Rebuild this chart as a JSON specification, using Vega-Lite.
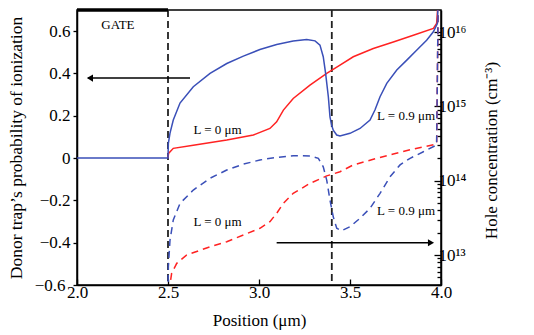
{
  "$schema": "https://vega.github.io/schema/vega-lite/v6.json",
  "width": 364,
  "height": 275,
  "autosize": "none",
  "padding": {"left": 77, "top": 10, "right": 93, "bottom": 50},
  "config": {
    "font": "Liberation Serif",
    "view": {"stroke": "black", "strokeWidth": 1.5},
    "axis": {
      "domainColor": "black", "domainWidth": 1.5, "tickColor": "black", "tickWidth": 1.3,
      "labelColor": "black", "titleColor": "black", "labelFont": "Liberation Serif", "titleFont": "Liberation Serif",
      "labelFontSize": 17, "titleFontSize": 17, "titleFontWeight": "normal", "grid": false
    }
  },
  "datasets": {
    "ion": [
      {"x": 2.5, "v": 0, "series": "L = 0 μm"}, {"x": 2.503, "v": 0.022, "series": "L = 0 μm"}, {"x": 2.529, "v": 0.046, "series": "L = 0 μm"},
      {"x": 2.639, "v": 0.061, "series": "L = 0 μm"}, {"x": 2.823, "v": 0.085, "series": "L = 0 μm"}, {"x": 2.969, "v": 0.109, "series": "L = 0 μm"},
      {"x": 3.06, "v": 0.14, "series": "L = 0 μm"}, {"x": 3.097, "v": 0.171, "series": "L = 0 μm"}, {"x": 3.134, "v": 0.227, "series": "L = 0 μm"},
      {"x": 3.188, "v": 0.282, "series": "L = 0 μm"}, {"x": 3.28, "v": 0.345, "series": "L = 0 μm"}, {"x": 3.372, "v": 0.4, "series": "L = 0 μm"},
      {"x": 3.445, "v": 0.439, "series": "L = 0 μm"}, {"x": 3.518, "v": 0.479, "series": "L = 0 μm"}, {"x": 3.628, "v": 0.518, "series": "L = 0 μm"},
      {"x": 3.738, "v": 0.549, "series": "L = 0 μm"}, {"x": 3.848, "v": 0.581, "series": "L = 0 μm"}, {"x": 3.958, "v": 0.613, "series": "L = 0 μm"},
      {"x": 3.976, "v": 0.636, "series": "L = 0 μm"}, {"x": 3.985, "v": 0.75, "series": "L = 0 μm"},
      {"x": 2.0, "v": 0, "series": "L = 0.9 μm"}, {"x": 2.5, "v": 0, "series": "L = 0.9 μm"}, {"x": 2.502, "v": 0.07, "series": "L = 0.9 μm"},
      {"x": 2.511, "v": 0.118, "series": "L = 0.9 μm"}, {"x": 2.529, "v": 0.18, "series": "L = 0.9 μm"}, {"x": 2.566, "v": 0.26, "series": "L = 0.9 μm"},
      {"x": 2.639, "v": 0.337, "series": "L = 0.9 μm"}, {"x": 2.731, "v": 0.4, "series": "L = 0.9 μm"}, {"x": 2.823, "v": 0.447, "series": "L = 0.9 μm"},
      {"x": 2.914, "v": 0.482, "series": "L = 0.9 μm"}, {"x": 3.005, "v": 0.513, "series": "L = 0.9 μm"}, {"x": 3.097, "v": 0.537, "series": "L = 0.9 μm"},
      {"x": 3.188, "v": 0.553, "series": "L = 0.9 μm"}, {"x": 3.262, "v": 0.561, "series": "L = 0.9 μm"}, {"x": 3.308, "v": 0.554, "series": "L = 0.9 μm"},
      {"x": 3.335, "v": 0.534, "series": "L = 0.9 μm"}, {"x": 3.353, "v": 0.479, "series": "L = 0.9 μm"}, {"x": 3.366, "v": 0.4, "series": "L = 0.9 μm"},
      {"x": 3.381, "v": 0.29, "series": "L = 0.9 μm"}, {"x": 3.39, "v": 0.195, "series": "L = 0.9 μm"}, {"x": 3.399, "v": 0.156, "series": "L = 0.9 μm"},
      {"x": 3.408, "v": 0.132, "series": "L = 0.9 μm"}, {"x": 3.427, "v": 0.109, "series": "L = 0.9 μm"}, {"x": 3.445, "v": 0.104, "series": "L = 0.9 μm"},
      {"x": 3.5, "v": 0.117, "series": "L = 0.9 μm"}, {"x": 3.555, "v": 0.14, "series": "L = 0.9 μm"}, {"x": 3.61, "v": 0.18, "series": "L = 0.9 μm"},
      {"x": 3.637, "v": 0.227, "series": "L = 0.9 μm"}, {"x": 3.665, "v": 0.29, "series": "L = 0.9 μm"}, {"x": 3.702, "v": 0.353, "series": "L = 0.9 μm"},
      {"x": 3.757, "v": 0.416, "series": "L = 0.9 μm"}, {"x": 3.812, "v": 0.463, "series": "L = 0.9 μm"}, {"x": 3.866, "v": 0.51, "series": "L = 0.9 μm"},
      {"x": 3.921, "v": 0.557, "series": "L = 0.9 μm"}, {"x": 3.958, "v": 0.597, "series": "L = 0.9 μm"}, {"x": 3.98, "v": 0.636, "series": "L = 0.9 μm"},
      {"x": 3.985, "v": 0.75, "series": "L = 0.9 μm"}
    ],
    "holes": [
      {"x": 2.505, "p": 3.2e12, "series": "L = 0 μm"}, {"x": 2.52, "p": 5.68e12, "series": "L = 0 μm"}, {"x": 2.548, "p": 7.73e12, "series": "L = 0 μm"},
      {"x": 2.603, "p": 1.0e13, "series": "L = 0 μm"}, {"x": 2.731, "p": 1.29e13, "series": "L = 0 μm"}, {"x": 2.823, "p": 1.51e13, "series": "L = 0 μm"},
      {"x": 2.914, "p": 1.86e13, "series": "L = 0 μm"}, {"x": 3.005, "p": 2.29e13, "series": "L = 0 μm"}, {"x": 3.06, "p": 2.81e13, "series": "L = 0 μm"},
      {"x": 3.097, "p": 3.64e13, "series": "L = 0 μm"}, {"x": 3.134, "p": 4.95e13, "series": "L = 0 μm"}, {"x": 3.188, "p": 6.76e13, "series": "L = 0 μm"},
      {"x": 3.28, "p": 9.2e13, "series": "L = 0 μm"}, {"x": 3.372, "p": 1.16e14, "series": "L = 0 μm"}, {"x": 3.445, "p": 1.32e14, "series": "L = 0 μm"},
      {"x": 3.518, "p": 1.63e14, "series": "L = 0 μm"}, {"x": 3.628, "p": 1.94e14, "series": "L = 0 μm"}, {"x": 3.738, "p": 2.29e14, "series": "L = 0 μm"},
      {"x": 3.848, "p": 2.67e14, "series": "L = 0 μm"}, {"x": 3.976, "p": 3.11e14, "series": "L = 0 μm"}, {"x": 3.985, "p": 3.2e16, "series": "L = 0 μm"},
      {"x": 2.5, "p": 3.0e12, "series": "L = 0.9 μm"}, {"x": 2.502, "p": 6.97e12, "series": "L = 0.9 μm"}, {"x": 2.511, "p": 1.59e13, "series": "L = 0.9 μm"},
      {"x": 2.529, "p": 2.96e13, "series": "L = 0.9 μm"}, {"x": 2.566, "p": 4.95e13, "series": "L = 0.9 μm"}, {"x": 2.639, "p": 7.48e13, "series": "L = 0.9 μm"},
      {"x": 2.731, "p": 1.08e14, "series": "L = 0.9 μm"}, {"x": 2.823, "p": 1.39e14, "series": "L = 0.9 μm"}, {"x": 2.914, "p": 1.67e14, "series": "L = 0.9 μm"},
      {"x": 3.005, "p": 1.9e14, "series": "L = 0.9 μm"}, {"x": 3.097, "p": 2.06e14, "series": "L = 0.9 μm"}, {"x": 3.188, "p": 2.17e14, "series": "L = 0.9 μm"},
      {"x": 3.28, "p": 2.15e14, "series": "L = 0.9 μm"}, {"x": 3.326, "p": 2.0e14, "series": "L = 0.9 μm"}, {"x": 3.353, "p": 1.54e14, "series": "L = 0.9 μm"},
      {"x": 3.372, "p": 1.02e14, "series": "L = 0.9 μm"}, {"x": 3.39, "p": 5.5e13, "series": "L = 0.9 μm"}, {"x": 3.408, "p": 3.27e13, "series": "L = 0.9 μm"},
      {"x": 3.427, "p": 2.29e13, "series": "L = 0.9 μm"}, {"x": 3.454, "p": 2.12e13, "series": "L = 0.9 μm"}, {"x": 3.5, "p": 2.4e13, "series": "L = 0.9 μm"},
      {"x": 3.555, "p": 3.12e13, "series": "L = 0.9 μm"}, {"x": 3.61, "p": 4.25e13, "series": "L = 0.9 μm"}, {"x": 3.665, "p": 6.76e13, "series": "L = 0.9 μm"},
      {"x": 3.72, "p": 1.13e14, "series": "L = 0.9 μm"}, {"x": 3.775, "p": 1.63e14, "series": "L = 0.9 μm"}, {"x": 3.83, "p": 2.0e14, "series": "L = 0.9 μm"},
      {"x": 3.903, "p": 2.45e14, "series": "L = 0.9 μm"}, {"x": 3.976, "p": 3.02e14, "series": "L = 0.9 μm"}, {"x": 3.985, "p": 3.2e16, "series": "L = 0.9 μm"}
    ],
    "labels": [
      {"x": 2.772, "v": 0.132, "label": "L = 0 μm"},
      {"x": 2.772, "v": -0.302, "label": "L = 0 μm"},
      {"x": 3.808, "v": 0.198, "label": "L = 0.9 μm"},
      {"x": 3.808, "v": -0.25, "label": "L = 0.9 μm"},
      {"x": 2.225, "v": 0.628, "label": "GATE"}
    ],
    "arrows": [
      {"x": 2.621, "xend": 2.06, "v": 0.378},
      {"x": 3.097, "xend": 3.95, "v": -0.4}
    ],
    "heads": [
      {"x": 2.071, "v": 0.378, "dir": "left"},
      {"x": 3.945, "v": -0.4, "dir": "right"}
    ],
    "markers": [{"x": 2.5}, {"x": 3.4}],
    "gate": [{"x": 2.0, "xend": 2.5}]
  },
  "layer": [
    {
      "layer": [
        {
          "data": {"name": "markers"},
          "mark": {"type": "rule", "color": "#222222", "strokeWidth": 1.8, "strokeDash": [7, 4]},
          "encoding": {
            "x": {"field": "x", "type": "quantitative", "scale": {"domain": [2, 4], "nice": false, "zero": false},
              "axis": {"title": "Position (μm)", "values": [2, 2.5, 3, 3.5, 4], "format": ".1f", "tickSize": -6, "labelPadding": 5, "titlePadding": 12, "labelFlush": false}}
          }
        },
        {
          "data": {"name": "gate"},
          "mark": {"type": "rule", "color": "black", "strokeWidth": 3.5},
          "encoding": {
            "x": {"field": "x", "type": "quantitative", "scale": {"domain": [2, 4], "nice": false, "zero": false},
              "axis": {"title": "Position (μm)", "values": [2, 2.5, 3, 3.5, 4], "format": ".1f", "tickSize": -6, "labelPadding": 5, "titlePadding": 12, "labelFlush": false}},
            "x2": {"field": "xend"},
            "y": {"datum": 0.7, "type": "quantitative", "scale": {"domain": [-0.6, 0.7], "nice": false, "zero": false},
              "axis": {"title": "Donor trap’s probability of ionization", "values": [-0.6, -0.4, -0.2, 0, 0.2, 0.4, 0.6], "titleFontSize": 17.5,
                "labelExpr": "datum.value == 0 ? '0' : format(datum.value, '.1f')", "tickSize": 4,
                "labelPadding": {"condition": {"test": "datum.value == -0.6", "value": 8}, "value": 3}, "titlePadding": 9}}
          }
        },
        {
          "data": {"name": "ion"},
          "mark": {"type": "line", "strokeWidth": 1.5, "clip": true},
          "encoding": {
            "x": {"field": "x", "type": "quantitative", "scale": {"domain": [2, 4], "nice": false, "zero": false},
              "axis": {"title": "Position (μm)", "values": [2, 2.5, 3, 3.5, 4], "format": ".1f", "tickSize": -6, "labelPadding": 5, "titlePadding": 12, "labelFlush": false}},
            "y": {"field": "v", "type": "quantitative", "scale": {"domain": [-0.6, 0.7], "nice": false, "zero": false},
              "axis": {"title": "Donor trap’s probability of ionization", "values": [-0.6, -0.4, -0.2, 0, 0.2, 0.4, 0.6], "titleFontSize": 17.5,
                "labelExpr": "datum.value == 0 ? '0' : format(datum.value, '.1f')", "tickSize": 4,
                "labelPadding": {"condition": {"test": "datum.value == -0.6", "value": 8}, "value": 3}, "titlePadding": 9}},
            "color": {"field": "series", "type": "nominal", "scale": {"domain": ["L = 0 μm", "L = 0.9 μm"], "range": ["#ff2222", "#3a4fb8"]}, "legend": null}
          }
        },
        {
          "data": {"name": "arrows"},
          "mark": {"type": "rule", "color": "black", "strokeWidth": 1.5},
          "encoding": {
            "x": {"field": "x", "type": "quantitative", "scale": {"domain": [2, 4], "nice": false, "zero": false},
              "axis": {"title": "Position (μm)", "values": [2, 2.5, 3, 3.5, 4], "format": ".1f", "tickSize": -6, "labelPadding": 5, "titlePadding": 12, "labelFlush": false}},
            "x2": {"field": "xend"},
            "y": {"field": "v", "type": "quantitative", "scale": {"domain": [-0.6, 0.7], "nice": false, "zero": false},
              "axis": {"title": "Donor trap’s probability of ionization", "values": [-0.6, -0.4, -0.2, 0, 0.2, 0.4, 0.6], "titleFontSize": 17.5,
                "labelExpr": "datum.value == 0 ? '0' : format(datum.value, '.1f')", "tickSize": 4,
                "labelPadding": {"condition": {"test": "datum.value == -0.6", "value": 8}, "value": 3}, "titlePadding": 9}}
          }
        },
        {
          "data": {"name": "heads"},
          "mark": {"type": "point", "filled": true, "color": "black", "opacity": 1, "size": 50},
          "encoding": {
            "x": {"field": "x", "type": "quantitative", "scale": {"domain": [2, 4], "nice": false, "zero": false},
              "axis": {"title": "Position (μm)", "values": [2, 2.5, 3, 3.5, 4], "format": ".1f", "tickSize": -6, "labelPadding": 5, "titlePadding": 12, "labelFlush": false}},
            "y": {"field": "v", "type": "quantitative", "scale": {"domain": [-0.6, 0.7], "nice": false, "zero": false},
              "axis": {"title": "Donor trap’s probability of ionization", "values": [-0.6, -0.4, -0.2, 0, 0.2, 0.4, 0.6], "titleFontSize": 17.5,
                "labelExpr": "datum.value == 0 ? '0' : format(datum.value, '.1f')", "tickSize": 4,
                "labelPadding": {"condition": {"test": "datum.value == -0.6", "value": 8}, "value": 3}, "titlePadding": 9}},
            "shape": {"field": "dir", "type": "nominal", "scale": {"domain": ["left", "right"], "range": ["triangle-left", "triangle-right"]}, "legend": null}
          }
        },
        {
          "data": {"name": "labels"},
          "mark": {"type": "text", "font": "Liberation Serif", "fontSize": 13, "color": "black", "align": "center", "baseline": "middle"},
          "encoding": {
            "x": {"field": "x", "type": "quantitative", "scale": {"domain": [2, 4], "nice": false, "zero": false},
              "axis": {"title": "Position (μm)", "values": [2, 2.5, 3, 3.5, 4], "format": ".1f", "tickSize": -6, "labelPadding": 5, "titlePadding": 12, "labelFlush": false}},
            "y": {"field": "v", "type": "quantitative", "scale": {"domain": [-0.6, 0.7], "nice": false, "zero": false},
              "axis": {"title": "Donor trap’s probability of ionization", "values": [-0.6, -0.4, -0.2, 0, 0.2, 0.4, 0.6], "titleFontSize": 17.5,
                "labelExpr": "datum.value == 0 ? '0' : format(datum.value, '.1f')", "tickSize": 4,
                "labelPadding": {"condition": {"test": "datum.value == -0.6", "value": 8}, "value": 3}, "titlePadding": 9}},
            "text": {"field": "label"}
          }
        }
      ]
    },
    {
      "data": {"name": "holes"},
      "mark": {"type": "line", "strokeWidth": 1.5, "strokeDash": [7, 5], "clip": true},
      "encoding": {
        "x": {"field": "x", "type": "quantitative", "scale": {"domain": [2, 4], "nice": false, "zero": false},
          "axis": {"title": "Position (μm)", "values": [2, 2.5, 3, 3.5, 4], "format": ".1f", "tickSize": -6, "labelPadding": 5, "titlePadding": 12, "labelFlush": false}},
        "y": {"field": "p", "type": "quantitative", "scale": {"type": "log", "domain": [3.95e12, 1.98e16], "nice": false},
          "axis": {"orient": "right", "title": "Hole concentration (cm⁻³)", "titleAngle": -90, "titlePadding": 34, "titleY": 140,
            "values": [4e12, 5e12, 6e12, 7e12, 8e12, 9e12, 1e13, 2e13, 3e13, 4e13, 5e13, 6e13, 7e13, 8e13, 9e13, 1e14, 2e14, 3e14, 4e14, 5e14, 6e14, 7e14, 8e14, 9e14, 1e15, 2e15, 3e15, 4e15, 5e15, 6e15, 7e15, 8e15, 9e15, 1e16],
            "labelExpr": "datum.value == 1e13 ? '10¹³' : datum.value == 1e14 ? '10¹⁴' : datum.value == 1e15 ? '10¹⁵' : datum.value == 1e16 ? '10¹⁶' : ''",
            "tickSize": {"condition": {"test": "datum.value == 1e13 || datum.value == 1e14 || datum.value == 1e15 || datum.value == 1e16", "value": -7}, "value": -4},
            "labelPadding": 4, "labelOverlap": false}},
        "color": {"field": "series", "type": "nominal", "scale": {"domain": ["L = 0 μm", "L = 0.9 μm"], "range": ["#ff2222", "#3a4fb8"]}, "legend": null}
      }
    }
  ],
  "resolve": {"scale": {"y": "independent"}}
}
